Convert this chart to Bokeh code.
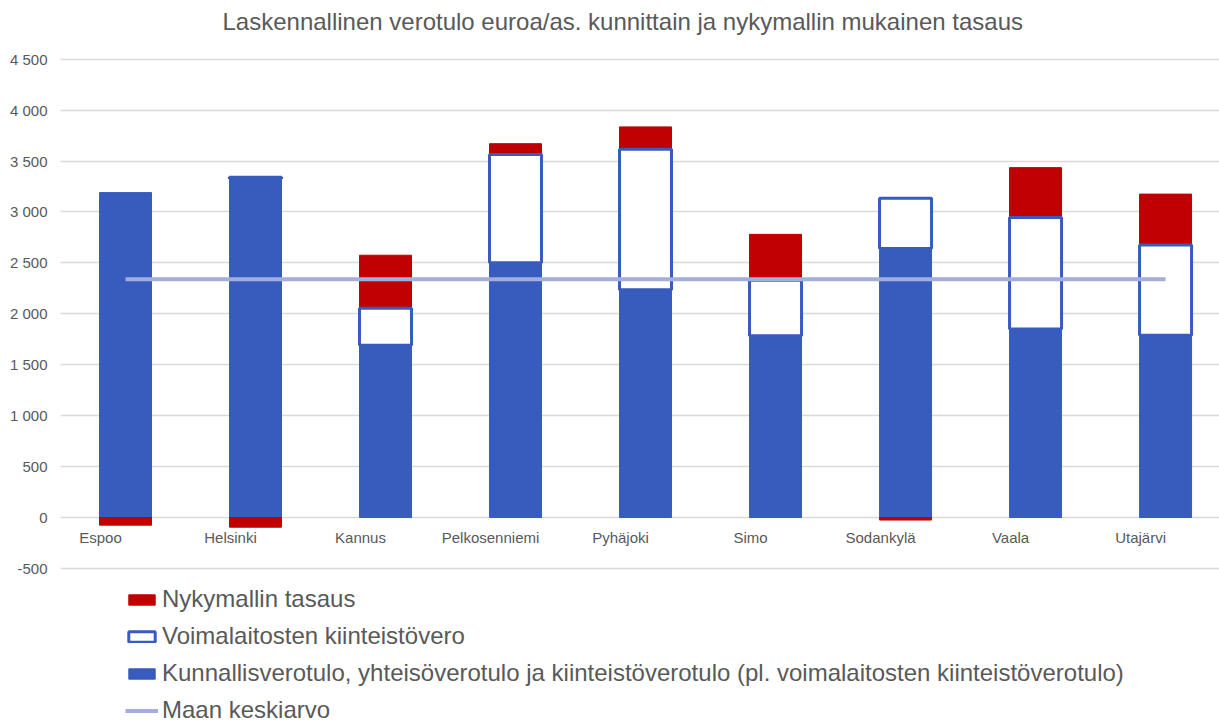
from bokeh.plotting import figure
from bokeh.models import Range1d, Legend, LegendItem, FixedTicker, ColumnDataSource
from bokeh.embed import file_html
from bokeh.resources import INLINE
from bokeh.core.properties import value

title = "Laskennallinen verotulo euroa/as. kunnittain ja nykymallin mukainen tasaus"
kunnat = ["Espoo", "Helsinki", "Kannus", "Pelkosenniemi", "Pyhäjoki",
          "Simo", "Sodankylä", "Vaala", "Utajärvi"]
perus = [3190, 3330, 1690, 2500, 2235, 1785, 2640, 1850, 1790]
voimalaitos = [0, 10, 365, 1065, 1380, 545, 495, 1095, 885]
tasaus = [-75, -95, 520, 105, 220, 450, -25, 490, 500]
keskiarvo = [2340, 2340, 2340, 2340, 2340, 2340, 2340, 2340, 2340]
y_ticks = [-500, 0, 500, 1000, 1500, 2000, 2500, 3000, 3500, 4000, 4500]
y_tick_labels = ["-500", "0", "500", "1 000", "1 500", "2 000", "2 500",
                 "3 000", "3 500", "4 000", "4 500"]
series_names = ["Nykymallin tasaus", "Voimalaitosten kiinteistövero",
                "Kunnallisverotulo, yhteisöverotulo ja kiinteistöverotulo (pl. voimalaitosten kiinteistöverotulo)",
                "Maan keskiarvo"]

BLUE = "#385BBE"
RED = "#C00000"
AVG = "#A3AEDC"
GREY = "#595959"
FONT = "Liberation Sans"

xs = list(range(len(kunnat)))

src_base = ColumnDataSource(dict(x=xs, top=perus))
vx, vb, vt = [], [], []
for i, (b, v) in enumerate(zip(perus, voimalaitos)):
    if v > 0:
        vx.append(i); vb.append(b); vt.append(b + v)
src_voima = ColumnDataSource(dict(x=vx, bottom=vb, top=vt))
tb, tt = [], []
for b, v, t in zip(perus, voimalaitos, tasaus):
    if t >= 0:
        tb.append(b + v); tt.append(b + v + t)
    else:
        tb.append(t); tt.append(0)
src_tas = ColumnDataSource(dict(x=xs, bottom=tb, top=tt))

# y range extends below the chart so that the legend sits inside the frame
p = figure(width=1219, height=725,
           x_range=Range1d(-0.5, 8.415), y_range=Range1d(-2042, 4693),
           output_backend="svg", toolbar_location=None, title=title,
           min_border_left=60, min_border_right=0, min_border_top=5,
           min_border_bottom=0)

p.title.align = "left"
p.title.offset = 162
p.title.text_font = FONT
p.title.text_font_size = "24px"
p.title.text_font_style = "normal"
p.title.text_color = GREY

p.outline_line_color = None
p.xaxis.visible = False
p.xgrid.visible = False
p.ygrid.ticker = FixedTicker(ticks=y_ticks)
p.ygrid.grid_line_color = "#D9D9D9"
p.ygrid.grid_line_width = 1.5
p.yaxis.ticker = FixedTicker(ticks=y_ticks)
p.yaxis.major_label_overrides = dict(zip(y_ticks, y_tick_labels))
p.yaxis.axis_line_color = None
p.yaxis.major_tick_line_color = None
p.yaxis.major_tick_out = 0
p.yaxis.major_tick_in = 0
p.yaxis.minor_tick_line_color = None
p.yaxis.major_label_text_color = GREY
p.yaxis.major_label_text_font = FONT
p.yaxis.major_label_text_font_size = "15px"
p.yaxis.major_label_standoff = 13

r_base = p.vbar(x="x", top="top", bottom=0, width=0.4, source=src_base,
                fill_color=BLUE, line_color=BLUE, line_width=1)
r_tas = p.vbar(x="x", top="top", bottom="bottom", width=0.4, source=src_tas,
               fill_color=RED, line_color=RED, line_width=1)
r_voima = p.vbar(x="x", top="top", bottom="bottom", width=0.4, source=src_voima,
                 fill_color="white", line_color=BLUE, line_width=3)
r_avg = p.line(x=xs, y=keskiarvo, line_color=AVG, line_width=4)

p.text(x=xs, y=[0] * len(xs), text=kunnat, x_offset=-25, y_offset=11,
       text_align="center", text_baseline="top",
       text_font=value(FONT), text_font_size="15px", text_color=GREY)

legend = Legend(items=[
    LegendItem(label=series_names[0], renderers=[r_tas]),
    LegendItem(label=series_names[1], renderers=[r_voima]),
    LegendItem(label=series_names[2], renderers=[r_base]),
    LegendItem(label=series_names[3], renderers=[r_avg]),
], location=(65, 1), orientation="vertical")
legend.border_line_color = None
legend.background_fill_alpha = 0
legend.margin = 0
legend.padding = 0
legend.spacing = 9
legend.glyph_width = 33
legend.glyph_height = 13
legend.label_height = 20
legend.label_standoff = 4
legend.label_text_font = FONT
legend.label_text_font_size = "24px"
legend.label_text_color = GREY
legend.label_text_baseline = "middle"
p.add_layout(legend)

open("out.html", "w").write(file_html(p, INLINE))
